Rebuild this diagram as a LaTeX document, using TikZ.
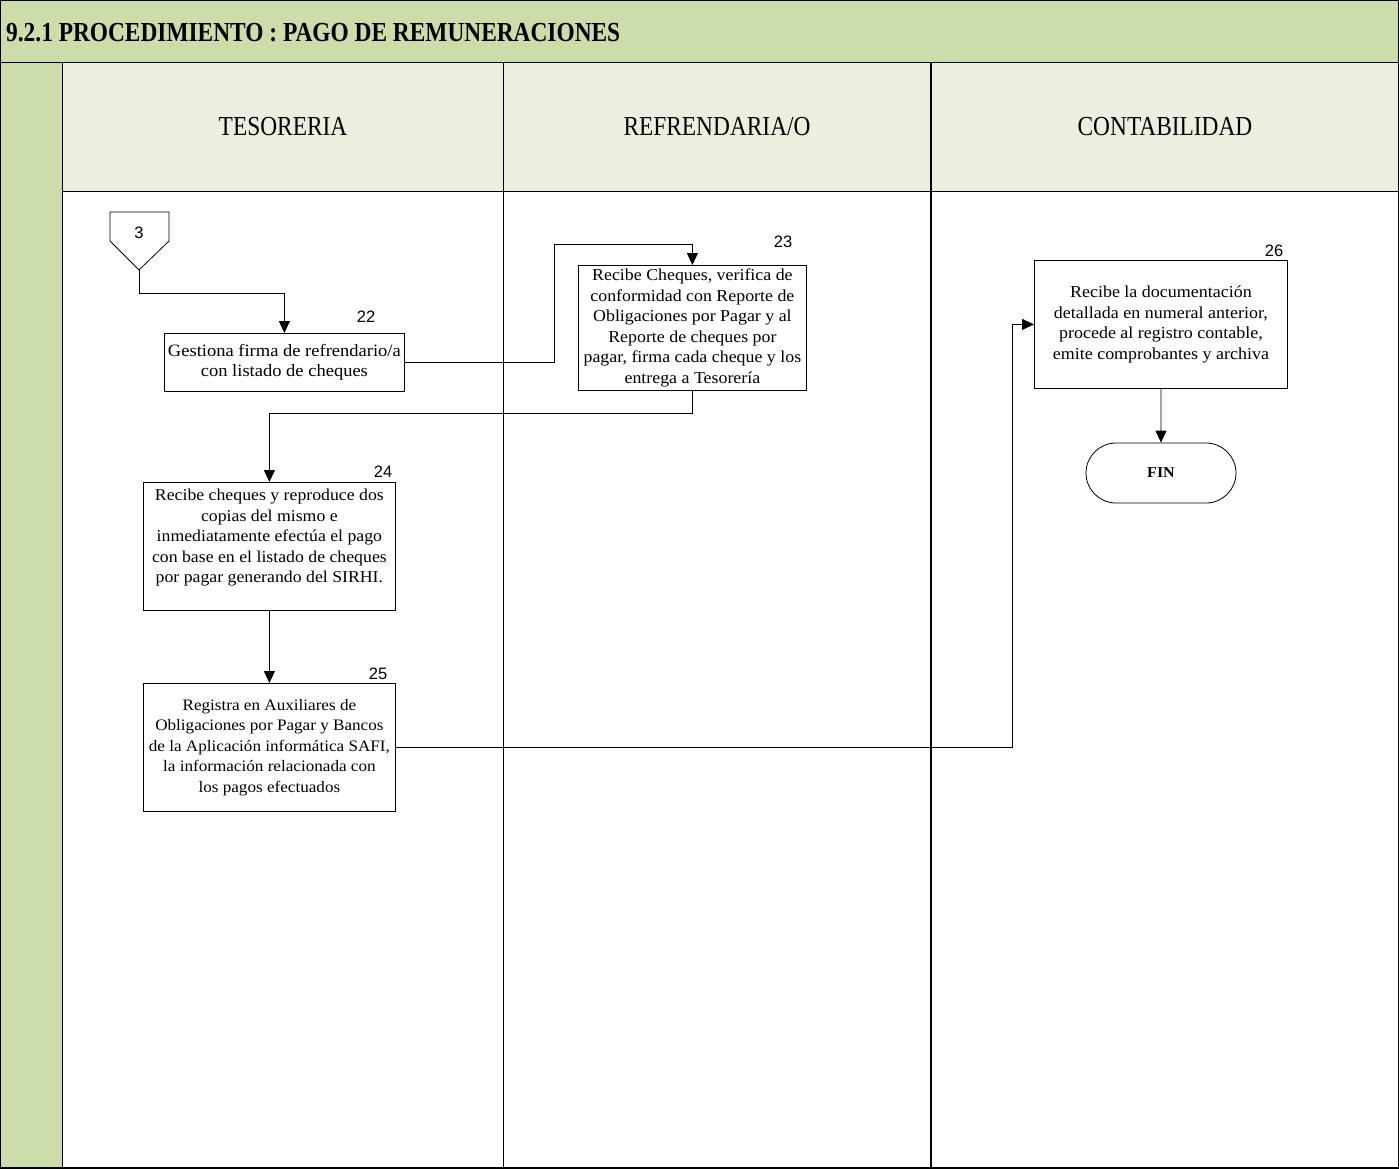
\documentclass[tikz,border=0pt]{standalone}
\usepackage{fontspec}
\setmainfont{Liberation Serif}
\newfontfamily\boxfont{Liberation Serif}[FakeStretch=1.07]
\newfontfamily\lanefont{Liberation Serif}[FakeStretch=0.85]
\newfontfamily\numfont{Liberation Sans}
\usetikzlibrary{arrows.meta}
\definecolor{titlegreen}{RGB}{205,221,170}
\definecolor{lanegreen}{RGB}{235,240,222}
\newcommand{\boxsize}[1]{\boxfont\fontsize{#1}{20.5}\selectfont}
\begin{document}
\begin{tikzpicture}[x=1pt,y=-1pt,
  proc/.style={draw, line width=0.8pt, fill=white, align=center, inner sep=2pt,
    anchor=north west, font={\boxsize{16}}},
  num/.style={font={\numfont\fontsize{16.5}{18}\selectfont}, inner sep=0pt},
  flow/.style={line width=0.8pt, -{Triangle[width=11pt,length=12pt]}},
  lane/.style={font={\lanefont\fontsize{27.5}{30}\selectfont}}]
\useasboundingbox (0,0) rectangle (1399,1168);
% title band, left strip and lane headers
\fill[titlegreen] (0,0) rectangle (1399,62);
\fill[titlegreen] (0,62) rectangle (62,1168);
\fill[lanegreen] (62,62) rectangle (1399,191);
\draw[line width=1.2pt] (0,0) rectangle (1399,1168);
\draw[line width=1pt] (0,62) -- (1399,62);
\draw[line width=1pt] (62,62) -- (62,1168);
\draw[line width=1pt] (62,191) -- (1399,191);
\draw[line width=0.8pt] (503,62) -- (503,1168);
\draw[line width=1.2pt] (931,62) -- (931,1168);
\node[anchor=base west, inner sep=0pt, font={\lanefont\bfseries\fontsize{27.5}{30}\selectfont}] (title) at (6,41)
  {9.2.1 PROCEDIMIENTO : PAGO DE REMUNERACIONES};
\node[lane] (tes) at (283,127) {TESORERIA};
\node[lane] (ref) at (717,127) {REFRENDARIA/O};
\node[lane] (con) at (1165,127) {CONTABILIDAD};

% off-page connector
\draw[line width=0.8pt, fill=white] (110,212) -- (169,212) -- (169,241) -- (139,270) -- (110,241) -- cycle;
\coordinate (c3tip) at (139,270);
\node[num] (c3) at (139,233) {3};

% steps
\node[proc, minimum width=240pt, minimum height=58pt, font={\boxsize{17.3}}] (b22) at (164,333)
  {Gestiona firma de refrendario/a\\con listado de cheques};
\node[proc, minimum width=228pt, minimum height=125pt, font={\boxsize{16.7}}] (b23) at (578,265)
  {Recibe Cheques, verifica de\\conformidad con Reporte de\\Obligaciones por Pagar y al\\Reporte de cheques por\\pagar, firma cada cheque y los\\entrega a Tesorería};
\node[proc, minimum width=252pt, minimum height=128pt, font={\boxsize{16.6}}] (b24) at (143,482)
  {Recibe cheques y reproduce dos\\copias del mismo e\\inmediatamente efectúa el pago\\con base en el listado de cheques\\por pagar generando del SIRHI.\\~};
\node[proc, minimum width=252pt, minimum height=128pt] (b25) at (143,683)
  {Registra en Auxiliares de\\Obligaciones por Pagar y Bancos\\de la Aplicación informática SAFI,\\la información relacionada con\\los pagos efectuados};
\node[proc, minimum width=253pt, minimum height=128pt, font={\boxsize{16.8}}] (b26) at (1034,260)
  {Recibe la documentación\\detallada en numeral anterior,\\procede al registro contable,\\emite comprobantes y archiva};
\node[draw, line width=0.8pt, rounded corners=30pt, minimum width=150pt, minimum height=60pt,
  font={\boxfont\bfseries\fontsize{15}{18}\selectfont}] (fin) at (1161,473) {FIN};

% step numbers
\node[num] (n22) at (366,317) {22};
\node[num] (n23) at (783,242) {23};
\node[num] (n24) at (383,472) {24};
\node[num] (n25) at (378,674) {25};
\node[num] (n26) at (1274,251) {26};

% connectors
\draw[flow] (c3tip) -- ++(0,23) -| (b22.north);
\draw[flow] (b22.east) -- ++(150,0) |- ([yshift=21pt]b23.north) -- (b23.north);
\draw[flow] (b23.south) -- ++(0,23) -| (b24.north);
\draw[flow] (b24.south) -- (b25.north);
\draw[flow] (b25.east) -- ++(617,0) |- (b26.west);
\draw[flow] (b26.south) -- (fin.north);
\end{tikzpicture}
\end{document}
